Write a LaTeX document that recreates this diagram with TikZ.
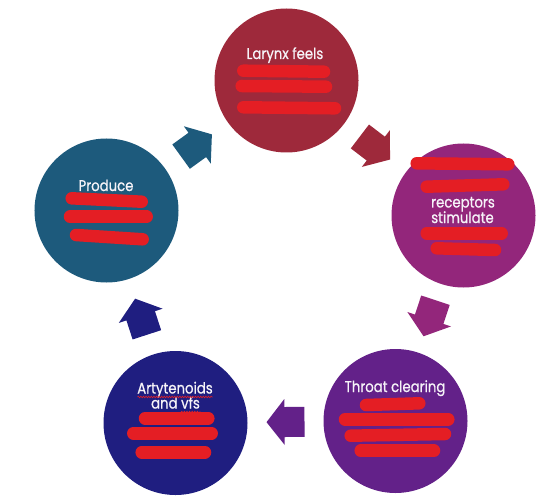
\documentclass[tikz,border=0pt]{standalone}
\usepackage{fontspec}
\setmainfont{Poppins}[FakeStretch=0.86,FakeBold=0.7]
\usetikzlibrary{decorations.pathmorphing,calc}
\definecolor{cRed}{RGB}{158,41,59}
\definecolor{cMag}{RGB}{147,38,123}
\definecolor{cPur}{RGB}{99,33,137}
\definecolor{cNavy}{RGB}{31,30,128}
\definecolor{cTeal}{RGB}{29,90,124}
\definecolor{scribble}{RGB}{228,30,36}
\definecolor{txt}{RGB}{246,243,248}
\newcommand{\blockarrow}[3]{% from node, to node, colour
  \path let \p1=(#1), \p2=(#2), \n1={atan2(\y2-\y1,\x2-\x1)} in \pgfextra{\xdef\blkang{\n1}};
  \fill[#3, shift={($(#1)!0.5!(#2)$)}, rotate=\blkang]
    (-19,-15) -- (1,-15) -- (1,-23) -- (19,0) -- (1,23) -- (1,15) -- (-19,15) -- cycle;
}
\begin{document}
\begin{tikzpicture}[x=1bp,y=-1bp,
  stage/.style={circle, inner sep=0pt, minimum size=144bp},
  lbl/.style={text=txt, font=\fontsize{15.5}{17}\selectfont, inner sep=0pt, anchor=base},
  redact/.style={line width=12.5bp, line cap=round, draw=scribble},
  wavy/.style={draw=scribble, line width=0.6bp, decorate, decoration={snake, amplitude=0.8bp, segment length=2.6bp}}]
\useasboundingbox (0,0) rectangle (552,503);

% stages
\node[stage, fill=cRed]  (c1) at (286.5,80.5) {};
\node[stage, fill=cMag]  (c2) at (463.5,215.5) {};
\node[stage, fill=cPur]  (c3) at (395.5,421) {};
\node[stage, fill=cNavy] (c4) at (175.5,423) {};
\node[stage, fill=cTeal] (c5) at (106.5,210.5) {};

% block arrows
\blockarrow{c1}{c2}{cRed}
\blockarrow{c2}{c3}{cMag}
\blockarrow{c3}{c4}{cPur}
\blockarrow{c4}{c5}{cNavy}
\blockarrow{c5}{c1}{cTeal}

% texts
\node[lbl] (t1)  at (285,59)    {Larynx feels};
\node[lbl] (t2a) at (463,207.5) {receptors};
\node[lbl] (t2b) at (462.5,223) {stimulate};
\node[lbl] (t3)  at (395,392)   {Throat clearing};
\node[lbl] (t4a) at (175,393.5) {Artytenoids};
\node[lbl] (t4b) at (175.5,408.5) {and vfs};
\node[lbl] (t5)  at (106,191)   {Produce};

% spelling underlines
\draw[wavy] (137.5,397) -- (212.5,397);
\draw[wavy] (181,412) -- (200.5,412);

% redaction strokes
\draw[redact] (243.3,70.7) -- (324,71.7);
\draw[redact] (241.7,86) -- (326,86.7);
\draw[redact] (243.3,107.3) -- (335,108.3);

\draw[redact] (416.7,163.3) -- (508.3,164.3);
\draw[redact] (426.7,186.7) -- (503.3,184.3);
\draw[redact] (426.7,233.3) -- (501.7,233.3);
\draw[redact] (436.7,248.3) -- (495,250);

\draw[redact] (366,405) -- (419.3,403.3);
\draw[redact] (345,419.3) -- (448.3,419.3);
\draw[redact] (350.7,435.7) -- (445,434);
\draw[redact] (360.7,450.7) -- (434,450.7);

\draw[redact] (145,418.3) -- (208.3,418.3);
\draw[redact] (133.3,433.3) -- (211.7,433.3);
\draw[redact] (141.7,452.3) -- (205,452.3);

\draw[redact] (71.7,198.3) -- (141.7,201.7);
\draw[redact] (70,216.7) -- (146.7,216.7);
\draw[redact] (76,235) -- (142.7,239.3);
\end{tikzpicture}
\end{document}
